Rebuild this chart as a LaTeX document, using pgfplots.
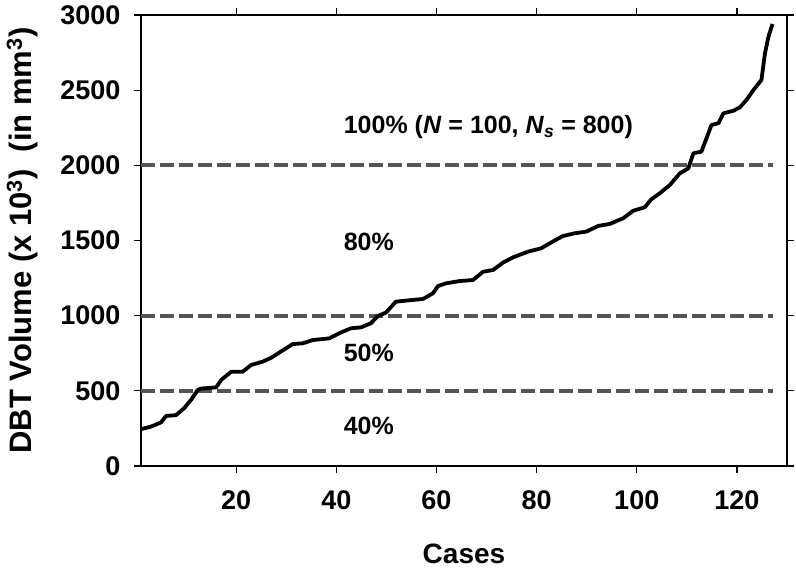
\documentclass[border=0pt]{standalone}
\usepackage{pgfplots}
\pgfplotsset{compat=1.18}
\usepackage{fontspec}
\setmainfont{Liberation Sans}

\definecolor{refgray}{RGB}{85,85,85}

\begin{document}
\begin{tikzpicture}
\begin{axis}[
    scale only axis,
    width=646pt, height=451pt,
    xmin=1, xmax=130, ymin=0, ymax=3000,
    xtick={20,40,...,120},
    ytick={0,500,...,3000},
    tick align=outside,
    major tick length=7pt,
    tick style={line width=1.2pt, black},
    axis line style={line width=1.5pt, black},
    ticklabel style={font=\fontsize{27}{30}\selectfont\bfseries},
    xticklabel style={yshift=-14pt},
    yticklabel style={xshift=-10pt},
    /pgf/number format/assume math mode=true,
    /pgf/number format/1000 sep={},
    xlabel={Cases},
    ylabel={DBT Volume (x 10\textsuperscript{3})\ \ (in mm\textsuperscript{3})},
    xlabel style={font=\fontsize{28}{32}\selectfont\bfseries, at={(axis description cs:0.5,-0.195)}, anchor=center},
    ylabel style={font=\fontsize{31}{34}\selectfont\bfseries, at={(axis description cs:-0.184,0.5)}, anchor=center},
    clip=false,
]
% reference levels
\addplot[refgray, line width=4pt, dash pattern=on 14pt off 5pt] coordinates {(1,2000) (127.2,2000)};
\addplot[refgray, line width=4pt, dash pattern=on 14pt off 5pt] coordinates {(1,1000) (127.2,1000)};
\addplot[refgray, line width=4pt, dash pattern=on 14pt off 5pt] coordinates {(1,500) (127.2,500)};

% sorted volumes
\addplot[black, line width=3.8pt, line join=round] coordinates {
    (1,245) (3,262) (5,290) (6,333) (8,338) (9.6,384) (11,440) (12.3,505)
    (13,515) (16,523) (17,572) (19,627) (21.3,627) (23,672) (25.3,694)
    (27,720) (28.6,754) (31.3,811) (33.3,816) (35.3,838) (38.6,849)
    (40.6,883) (42.9,916) (44.9,922) (46.9,949) (48.3,998) (49.9,1020)
    (51.9,1093) (53.9,1100) (57.3,1111) (59.3,1149) (60.3,1197) (61.9,1215)
    (64.6,1230) (67.3,1237) (69.3,1292) (71.3,1304) (73.3,1353) (75.3,1388)
    (78.3,1426) (80.9,1448) (83.6,1500) (85.3,1530) (87.6,1548) (89.9,1559)
    (92.3,1597) (94.6,1610) (97.3,1648) (99.3,1698) (101.6,1721) (102.9,1774)
    (104.6,1814) (106.6,1869) (108.6,1947) (110.3,1980) (111.3,2080)
    (112.9,2091) (114.3,2213) (114.9,2268) (116.3,2280) (117.3,2346)
    (119.3,2363) (120.6,2386) (121.9,2435) (123.3,2501) (124.9,2568)
    (125.6,2745) (126.3,2856) (127.1,2940)
};

\node[anchor=west, font=\fontsize{25}{28}\selectfont\bfseries] at (axis cs:40.8,2255)
    {100\% (\textit{N} = 100, \textit{N}\textsubscript{\textit{s}} = 800)};
\node[anchor=west, font=\fontsize{25}{28}\selectfont\bfseries] at (axis cs:40.8,1493) {80\%};
\node[anchor=west, font=\fontsize{25}{28}\selectfont\bfseries] at (axis cs:40.8,755) {50\%};
\node[anchor=west, font=\fontsize{25}{28}\selectfont\bfseries] at (axis cs:40.8,266) {40\%};
\end{axis}
\pgfresetboundingbox
\path (-141pt,-112pt) rectangle (655pt,466pt);
\end{tikzpicture}
\end{document}
